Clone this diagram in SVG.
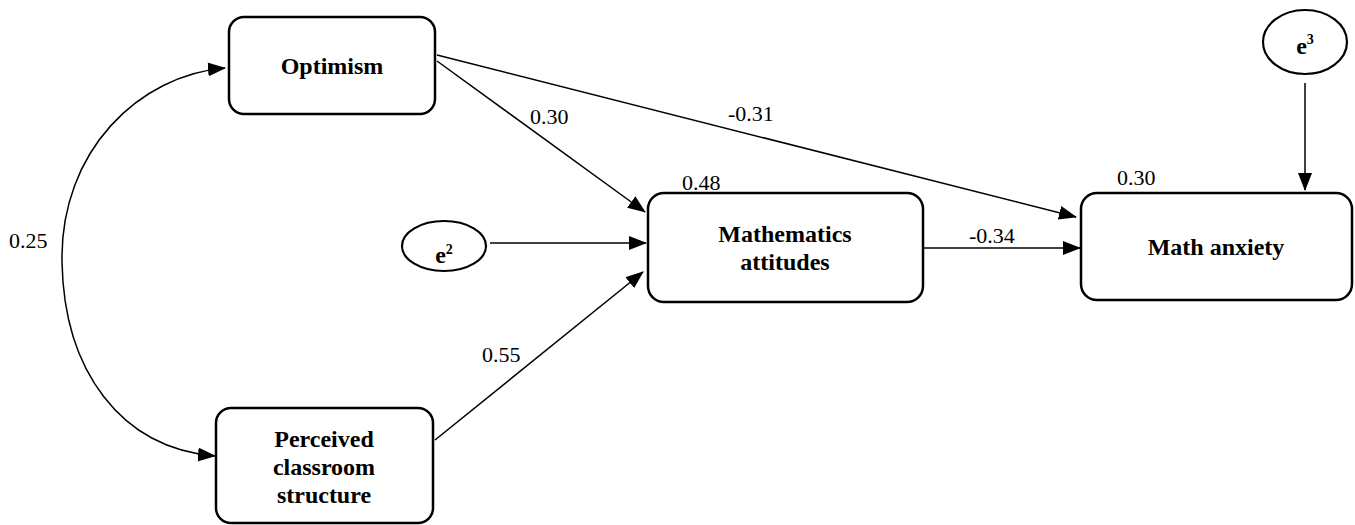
<svg xmlns="http://www.w3.org/2000/svg" width="1355" height="525" viewBox="0 0 1355 525">
<style>
.box{fill:#fff;stroke:#000;stroke-width:2.5}
.ell{fill:#fff;stroke:#000;stroke-width:2.2}
.lbl{font-family:'Liberation Serif',serif;font-size:22px;fill:#000}
.nt{font-family:'Liberation Serif',serif;font-size:24px;font-weight:bold;fill:#000;text-anchor:middle}
.sup{font-size:14px}
.con{fill:none;stroke:#000;stroke-width:1.5}
</style>
<defs>
<marker id="ah" markerUnits="userSpaceOnUse" markerWidth="18" markerHeight="14" viewBox="0 0 18 14" refX="17" refY="7" orient="auto-start-reverse">
<path d="M0,0 L18,7 L0,14 Z" fill="#000"/>
</marker>
</defs>
<rect width="1355" height="525" fill="#fff"/>
<g id="connectors">
<path class="con" d="M225,68 C140,75 60,150 62,262 C64,370 120,448 215,456" marker-start="url(#ah)" marker-end="url(#ah)"/>
<line class="con" x1="437" y1="61" x2="645" y2="212" marker-end="url(#ah)"/>
<line class="con" x1="437" y1="55" x2="1076" y2="217" marker-end="url(#ah)"/>
<line class="con" x1="490" y1="243" x2="646" y2="243" marker-end="url(#ah)"/>
<line class="con" x1="435" y1="440" x2="643" y2="272" marker-end="url(#ah)"/>
<line class="con" x1="923" y1="248" x2="1080" y2="248" marker-end="url(#ah)"/>
<line class="con" x1="1305" y1="83" x2="1305" y2="190" marker-end="url(#ah)"/>
<text class="lbl" x="9" y="248" font-family="Liberation Serif">0.25</text>
<text class="lbl" x="530" y="124" font-family="Liberation Serif">0.30</text>
<text class="lbl" x="728" y="121" font-family="Liberation Serif">-0.31</text>
<text class="lbl" x="482" y="362" font-family="Liberation Serif">0.55</text>
<text class="lbl" x="969" y="243" font-family="Liberation Serif">-0.34</text>
</g>
<g id="optimism">
<rect class="box" x="229" y="17" width="206" height="97" rx="15"/>
<text class="nt" x="332" y="74">Optimism</text>
</g>
<g id="perceived">
<rect class="box" x="216" y="408" width="217" height="115" rx="15"/>
<text class="nt" x="324" y="447">Perceived</text>
<text class="nt" x="324" y="475">classroom</text>
<text class="nt" x="324" y="503">structure</text>
</g>
<g id="e2">
<ellipse class="ell" cx="444" cy="246" rx="42" ry="25"/>
<text class="nt" x="444" y="263">e<tspan class="sup" dy="-9">2</tspan></text>
</g>
<g id="attitudes">
<rect class="box" x="648" y="193" width="275" height="109" rx="16"/>
<text class="lbl" x="682" y="190">0.48</text>
<text class="nt" x="785" y="242">Mathematics</text>
<text class="nt" x="785" y="270">attitudes</text>
</g>
<g id="e3">
<ellipse class="ell" cx="1305" cy="42" rx="42" ry="32"/>
<text class="nt" x="1305" y="54">e<tspan class="sup" dy="-10">3</tspan></text>
</g>
<g id="anxiety">
<rect class="box" x="1081" y="193" width="271" height="107" rx="16"/>
<text class="lbl" x="1117" y="185">0.30</text>
<text class="nt" x="1216" y="255">Math anxiety</text>
</g>
</svg>
